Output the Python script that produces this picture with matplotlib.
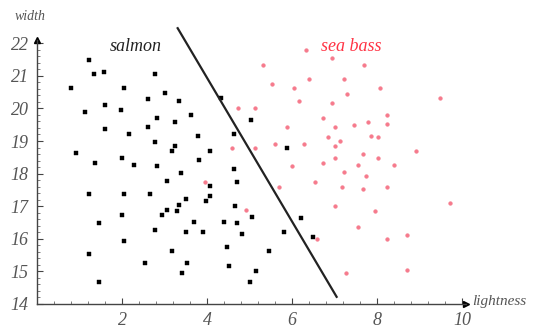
import matplotlib as mpl
mpl.use('Agg')

import numpy as np
import matplotlib.pyplot as plt

# salmon samples (lightness, width)
salmon_x = [1.23, 1.33, 1.57, 2.78, 0.79, 2.05, 3.02, 2.61, 3.34, 1.61, 1.97, 1.12,
            4.33, 3.62, 2.82, 3.25, 5.04, 2.61, 1.61, 2.16, 3.79, 4.63, 2.78, 3.25,
            3.18, 4.07, 0.92, 2.01, 3.82, 1.36, 2.29, 2.82, 4.63, 3.38, 3.06, 4.71,
            4.07, 1.23, 2.05, 2.65, 4.07, 3.50, 3.98, 3.34, 4.67, 3.06, 3.29, 2.93,
            2.01, 5.07, 3.70, 4.39, 1.45, 4.71, 2.78, 3.50, 3.91, 4.83, 2.05, 4.47,
            3.18, 1.23, 2.53, 3.54, 4.51, 3.42, 5.15, 1.45, 5.00, 5.47, 6.21, 5.80,
            6.49, 5.89]
salmon_y = [21.48, 21.06, 21.13, 21.06, 20.64, 20.64, 20.48, 20.28, 20.23, 20.11, 19.96, 19.90,
            20.33, 19.80, 19.70, 19.58, 19.64, 19.43, 19.38, 19.21, 19.16, 19.21, 18.96, 18.85,
            18.68, 18.69, 18.64, 18.48, 18.43, 18.33, 18.27, 18.22, 18.14, 18.01, 17.78, 17.73,
            17.63, 17.36, 17.36, 17.36, 17.31, 17.21, 17.16, 17.05, 17.00, 16.89, 16.84, 16.74,
            16.74, 16.68, 16.52, 16.52, 16.48, 16.48, 16.26, 16.21, 16.21, 16.16, 15.94, 15.74,
            15.63, 15.52, 15.27, 15.27, 15.16, 14.95, 15.00, 14.68, 14.68, 15.63, 16.63, 16.21,
            16.06, 18.80]

# sea bass samples
bass_x = [5.32, 4.72, 5.12, 4.59, 5.12, 3.95, 4.91, 6.32, 6.93, 7.70, 6.41, 7.22,
          5.52, 6.05, 8.07, 7.30, 9.48, 6.17, 6.93, 6.74, 8.23, 8.23, 7.78, 5.89,
          7.02, 7.46, 7.87, 8.03, 6.85, 7.14, 7.02, 5.60, 6.29, 8.91, 7.66, 7.02,
          8.03, 6.74, 7.55, 8.39, 6.01, 7.22, 7.75, 6.53, 7.18, 7.66, 8.23, 5.69,
          9.72, 7.02, 7.95, 7.55, 8.71, 8.23, 6.58, 8.71, 7.26]
bass_y = [21.33, 20.00, 20.00, 18.80, 18.80, 17.73, 16.89, 21.80, 21.54, 21.33, 20.90, 20.90,
          20.75, 20.64, 20.64, 20.43, 20.33, 20.22, 20.17, 19.70, 19.80, 19.53, 19.58, 19.43,
          19.43, 19.48, 19.16, 19.11, 19.11, 19.01, 18.85, 18.91, 18.91, 18.69, 18.59, 18.48,
          18.48, 18.33, 18.27, 18.27, 18.22, 18.05, 17.94, 17.73, 17.58, 17.53, 17.58, 17.58,
          17.11, 17.00, 16.84, 16.37, 16.11, 16.00, 16.00, 15.05, 14.95]

# decision boundary end points
boundary_x = [3.31, 7.05]
boundary_y = [22.46, 14.22]

x_ticks = [2, 4, 6, 8, 10]
y_ticks = [14, 15, 16, 17, 18, 19, 20, 21, 22]

grey = '#555555'
serif = ['Liberation Serif', 'DejaVu Serif']

fig = plt.figure(figsize=(5.33, 3.29), dpi=100)
ax = fig.add_axes([37 / 533, 25 / 329, 10.1 * 42.5 / 533, 8.1 * 32.6 / 329])
ax.set_xlim(0, 10.1)
ax.set_ylim(14, 22.1)

ax.plot(salmon_x, salmon_y, 's', color='black', markersize=2.7, markeredgewidth=0.3)
ax.plot(bass_x, bass_y, 'o', color='#f67a8c', markersize=2.7, markeredgewidth=0.3)
ax.plot(boundary_x, boundary_y, color='#222222', linewidth=1.6, clip_on=False)

ax.text(2.33, 21.89, 'salmon', fontsize=13, style='italic', family=serif,
        ha='center', va='center', color='#222222')
ax.text(7.40, 21.89, 'sea bass', fontsize=13, style='italic', family=serif,
        ha='center', va='center', color='#ff3344')

# axes with arrows
for side in ['top', 'right']:
    ax.spines[side].set_visible(False)
for side in ['left', 'bottom']:
    ax.spines[side].set_color('#444444')
    ax.spines[side].set_linewidth(1.0)
ax.plot(1, 0, '>', color='black', markersize=5, transform=ax.transAxes, clip_on=False)
ax.plot(0, 1, '^', color='black', markersize=5, transform=ax.transAxes, clip_on=False)

ax.set_xticks(x_ticks)
ax.set_yticks(y_ticks)
ax.set_xticks(np.arange(0.4, 10.1, 0.4), minor=True)
ax.set_yticks(np.arange(14.2, 22.0, 0.2), minor=True)
ax.tick_params(which='major', direction='in', length=4, width=0.8, color='#444444',
               labelcolor=grey, labelsize=13, pad=6)
ax.tick_params(which='minor', direction='in', length=2, width=0.6, color='#666666')
for lbl in ax.get_xticklabels() + ax.get_yticklabels():
    lbl.set_family(serif)
    lbl.set_style('italic')

fig.text(30 / 533, 1 - 17 / 329, 'width', fontsize=10, style='italic', family=serif,
         color=grey, ha='center', va='center')
fig.text(472 / 533, 1 - 302 / 329, 'lightness', fontsize=11, style='italic', family=serif,
         color=grey, ha='left', va='center')

plt.savefig('out.png', dpi=100)
